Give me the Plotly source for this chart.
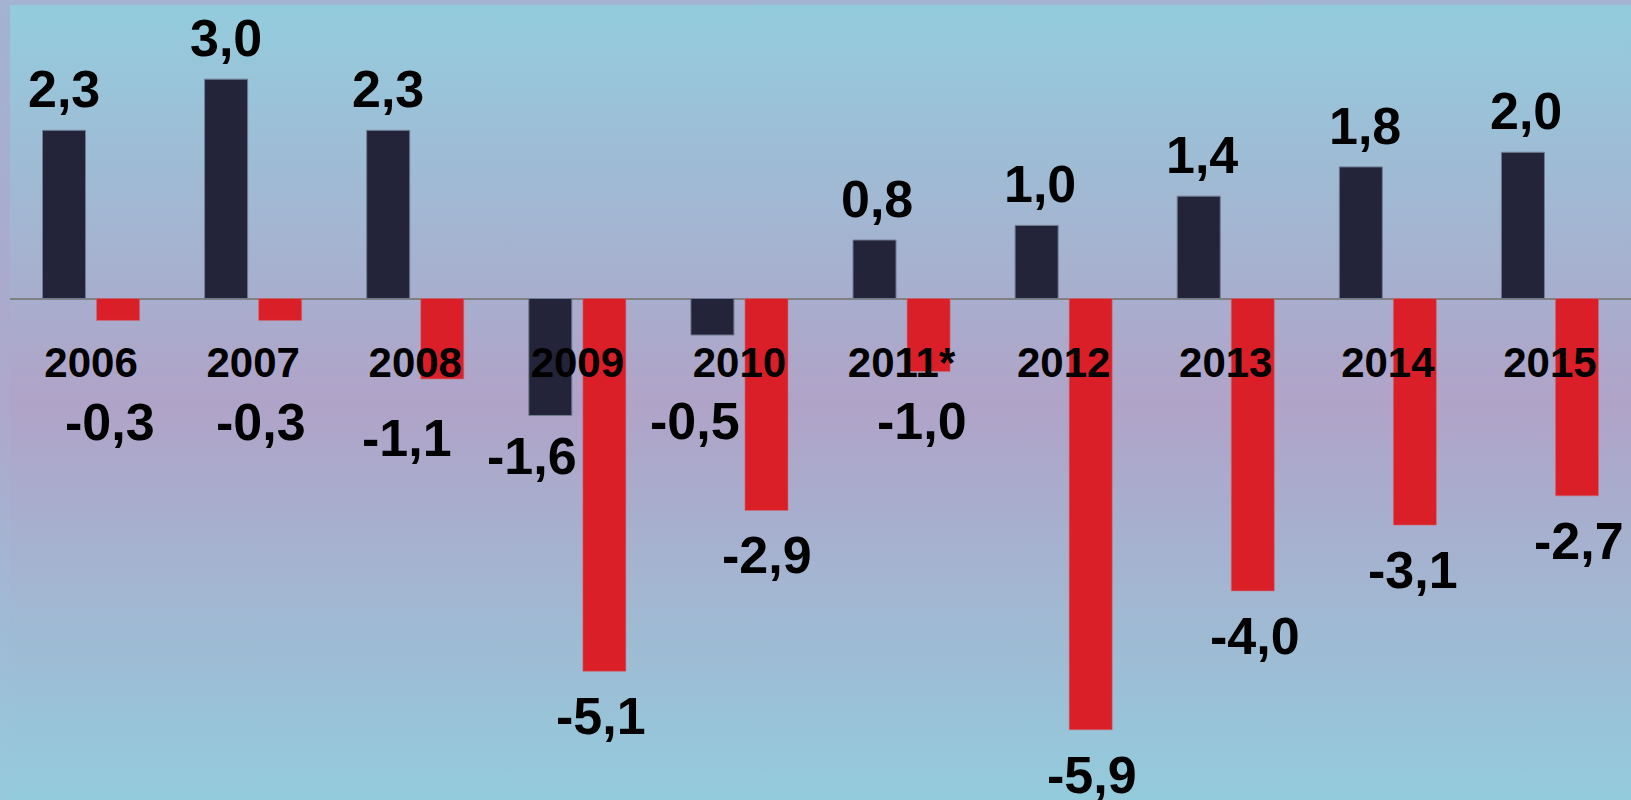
import base64
import plotly.graph_objects as go

# ---- data ----
years = ["2006", "2007", "2008", "2009", "2010", "2011*", "2012", "2013", "2014", "2015"]
series_dark = [2.3, 3.0, 2.3, -1.6, -0.5, 0.8, 1.0, 1.4, 1.8, 2.0]
series_red = [-0.3, -0.3, -1.1, -5.1, -2.9, -1.0, -5.9, -4.0, -3.1, -2.7]

# ---- label nudges (style, pixels) ----
dark_dx = [0, 0, 0, -18, -17, 2, 3, 3, 4, 3]
dark_dy = [0, 0, 0, -4, 41, 0, 0, 0, 0, 0]
red_dx = [-8, -19, -35, -3, 1, -7, 1, 2, -2, 2]
red_dy = [57, 57, 14, 0, 0, 4, 0, 0, 0, 0]

DARK = "#232439"
RED = "#DA1F29"
FONT = "Liberation Sans"

W, H = 1631, 800
ML, MR, MT, MB = 10, 0, 5, 0
PW, PH = W - ML - MR, H - MT - MB


def grad_uri(stops):
    st = "".join(f"<stop offset='{o}' stop-color='{c}'/>" for o, c in stops)
    svg = ("<svg xmlns='http://www.w3.org/2000/svg' width='100' height='100' "
           "viewBox='0 0 100 100' preserveAspectRatio='none'>"
           f"<defs><linearGradient id='g' x1='0' y1='0' x2='0' y2='1'>{st}</linearGradient></defs>"
           "<rect width='100' height='100' fill='url(#g)'/></svg>")
    return "data:image/svg+xml;base64," + base64.b64encode(svg.encode()).decode()


outer = grad_uri([(0, "#A3B3D2"), (0.5, "#ADA7CB"), (1, "#95CADC")])
inner = grad_uri([(0, "#93CCDD"), (0.5, "#B0A3C8"), (1, "#93CBDC")])

fig = go.Figure()
fig.add_trace(go.Bar(x=years, y=series_dark, marker=dict(color=DARK, line=dict(color="#717C92", width=1)),
                     hoverinfo="skip"))
fig.add_trace(go.Bar(x=years, y=series_red, marker=dict(color=RED, line=dict(color="#C8707A", width=0.6)),
                     hoverinfo="skip"))


def fmt(v):
    return f"{v:.1f}".replace(".", ",")


slot = PW / len(years) * (1 - 0.333) / 2
annotations = []
for series, sgn, dxs, dys in ((series_dark, -1, dark_dx, dark_dy), (series_red, 1, red_dx, red_dy)):
    for i, v in enumerate(series):
        ys = 41 if v >= 0 else -45 - dys[i]
        annotations.append(dict(
            x=i, y=v, xref="x", yref="y", text=fmt(v), showarrow=False,
            xanchor="center", yanchor="middle", xshift=sgn * slot / 2 + dxs[i], yshift=ys,
            font=dict(family=FONT, size=52, color="black", weight="bold")))

fig.update_layout(
    width=W, height=H, autosize=False,
    margin=dict(l=ML, r=MR, t=MT, b=MB, pad=0),
    paper_bgcolor="#A8B0CE", plot_bgcolor="rgba(0,0,0,0)",
    barmode="group", bargap=0.333, bargroupgap=0.204,
    showlegend=False,
    annotations=annotations,
    images=[
        dict(source=outer, xref="paper", yref="paper", x=-ML / PW, y=1 + MT / PH,
             sizex=W / PW, sizey=H / PH, sizing="stretch", layer="below", xanchor="left", yanchor="top"),
        dict(source=inner, xref="paper", yref="paper", x=0, y=1, sizex=1, sizey=1,
             sizing="stretch", layer="below", xanchor="left", yanchor="top"),
    ],
    xaxis=dict(type="category", range=[-0.5, len(years) - 0.5], showgrid=False, showline=False,
               zeroline=False, ticks="", anchor="free", position=(H - MB - 334) / PH,
               tickfont=dict(family=FONT, size=42, color="black", weight="bold")),
    yaxis=dict(range=[-(H - MB - 298.5) / 73.1, (298.5 - MT) / 73.1], showgrid=False, showline=False,
               showticklabels=False, ticks="", zeroline=True, zerolinecolor="#808080", zerolinewidth=2),
)

fig.write_html("out.html", config={"displayModeBar": False},
               post_script="document.body.style.margin='0';document.body.style.overflow='hidden';")
